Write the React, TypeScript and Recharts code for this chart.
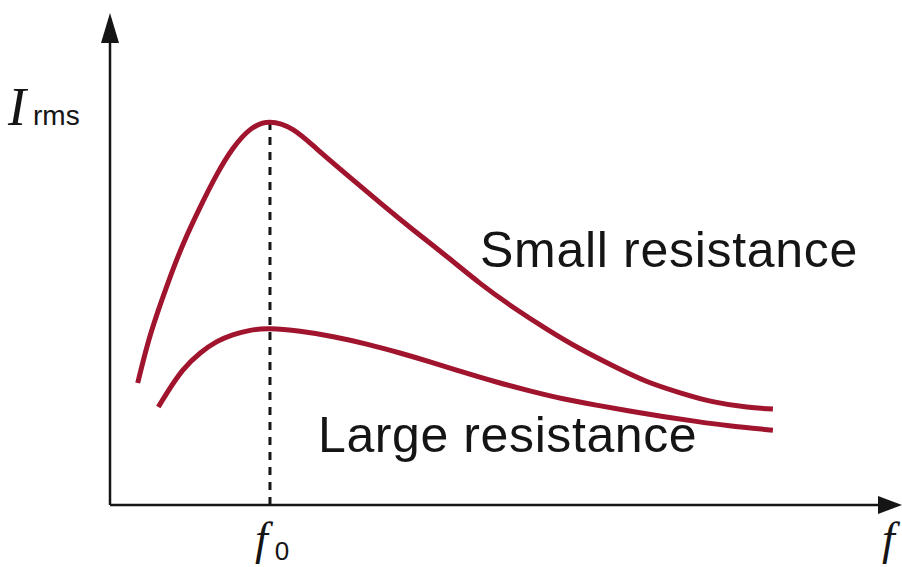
import React from 'react';
import { LineChart, Line, XAxis, YAxis, ReferenceLine, ReferenceDot } from 'recharts';

// resonance frequency f0 (arbitrary units)
const F0 = 20.2;

// small resistance: sharp resonance peak
const smallFreq = [3.5, 5.1, 7.2, 9.2, 11.4, 13.5, 15.5, 17.7, 20.2, 23.1, 26.1, 30.3, 34.5, 38.3, 42.6, 46.7, 50.9, 55.2, 59.3, 63.5, 67.8, 72.0, 76.1, 80.4, 83.7];
const smallCurrent = [24.8, 34.6, 44.6, 52.9, 60.6, 67.2, 72.4, 76.3, 77.8, 76.3, 72.4, 66.6, 60.9, 55.9, 50.4, 45.1, 40.2, 35.7, 31.8, 28.3, 25.1, 22.8, 21.0, 19.9, 19.5];

// large resistance: broad, low peak
const largeFreq = [6.1, 7.2, 9.2, 11.4, 13.5, 15.5, 17.7, 20.2, 24.0, 28.2, 32.4, 36.6, 40.4, 44.6, 48.8, 53.0, 57.2, 61.4, 65.6, 69.8, 74.0, 78.2, 83.7];
const largeCurrent = [19.9, 22.8, 27.4, 30.9, 33.2, 34.6, 35.5, 35.8, 35.3, 34.2, 32.7, 30.9, 29.1, 27.0, 25.0, 23.2, 21.6, 20.3, 19.1, 18.0, 17.0, 16.1, 15.2];

const smallData = smallFreq.map((f, i) => ({ f, i: smallCurrent[i] }));
const largeData = largeFreq.map((f, i) => ({ f, i: largeCurrent[i] }));
const peakSmall = Math.max(...smallCurrent);

const CURVE = '#a0142d';
const INK = '#151515';
const SANS = '"Liberation Sans", Arial, sans-serif';
const SERIF = '"Liberation Serif", "Times New Roman", serif';

const ArrowRight = (props: any) => {
  const { cx, cy } = props;
  return <polygon points={`${cx},${cy} ${cx - 24},${cy - 9} ${cx - 24},${cy + 9}`} fill={INK} />;
};

const ArrowUp = (props: any) => {
  const { cx, cy } = props;
  return <polygon points={`${cx},${cy} ${cx - 9},${cy + 30} ${cx + 9},${cy + 30}`} fill={INK} />;
};

const F0Tick = (props: any) => {
  const { x, y } = props;
  return (
    <text x={x - 15} y={y + 41} fill={INK}>
      <tspan fontFamily={SERIF} fontStyle="italic" fontSize={46}>f</tspan>
      <tspan fontFamily={SANS} fontSize={26} dx={7} dy={6}>0</tspan>
    </text>
  );
};

export default function App() {
  return (
    <div style={{ position: 'absolute', left: 0, top: 0, width: 902, height: 567, background: '#fff' }}>
      <LineChart width={902} height={567} margin={{ top: 13, right: 0, bottom: 61, left: 109 }}>
        <XAxis
          dataKey="f"
          type="number"
          domain={[0, 100]}
          ticks={[F0]}
          tick={<F0Tick />}
          tickLine={false}
          height={1}
          axisLine={false}
        />
        <YAxis dataKey="i" type="number" domain={[0, 100]} tick={false} tickLine={false} width={1} axisLine={false} />
        {/* axes drawn as segments so they sit exactly on the data origin */}
        <ReferenceLine segment={[{ x: 0, y: 0 }, { x: 98, y: 0 }]} stroke={INK} strokeWidth={2.5} ifOverflow="visible" />
        <ReferenceLine segment={[{ x: 0, y: 0 }, { x: 0, y: 96 }]} stroke={INK} strokeWidth={2.5} ifOverflow="visible" />
        <ReferenceLine
          segment={[{ x: F0, y: 0 }, { x: F0, y: peakSmall }]}
          stroke={INK}
          strokeWidth={3}
          strokeDasharray="8 7"
        />
        <ReferenceDot x={100} y={0} r={0} shape={<ArrowRight />} ifOverflow="visible" />
        <ReferenceDot x={0} y={100} r={0} shape={<ArrowUp />} ifOverflow="visible" />
        <Line data={smallData} dataKey="i" type="natural" stroke={CURVE} strokeWidth={5} dot={false} activeDot={false} isAnimationActive={false} />
        <Line data={largeData} dataKey="i" type="natural" stroke={CURVE} strokeWidth={5} dot={false} activeDot={false} isAnimationActive={false} />
      </LineChart>
      <svg width={902} height={567} style={{ position: 'absolute', left: 0, top: 0, pointerEvents: 'none' }}>
        <text x={8} y={125} fontFamily={SERIF} fontStyle="italic" fontSize={54} fill={INK}>I</text>
        <text x={33} y={125} fontFamily={SANS} fontSize={28} fill={INK}>rms</text>
        <text x={480} y={267} fontFamily={SANS} fontSize={50} fill={INK} letterSpacing={0.7}>Small resistance</text>
        <text x={318} y={452} fontFamily={SANS} fontSize={50} fill={INK} letterSpacing={0.6}>Large resistance</text>
        <text x={882} y={554} fontFamily={SERIF} fontStyle="italic" fontSize={46} fill={INK}>f</text>
      </svg>
    </div>
  );
}
